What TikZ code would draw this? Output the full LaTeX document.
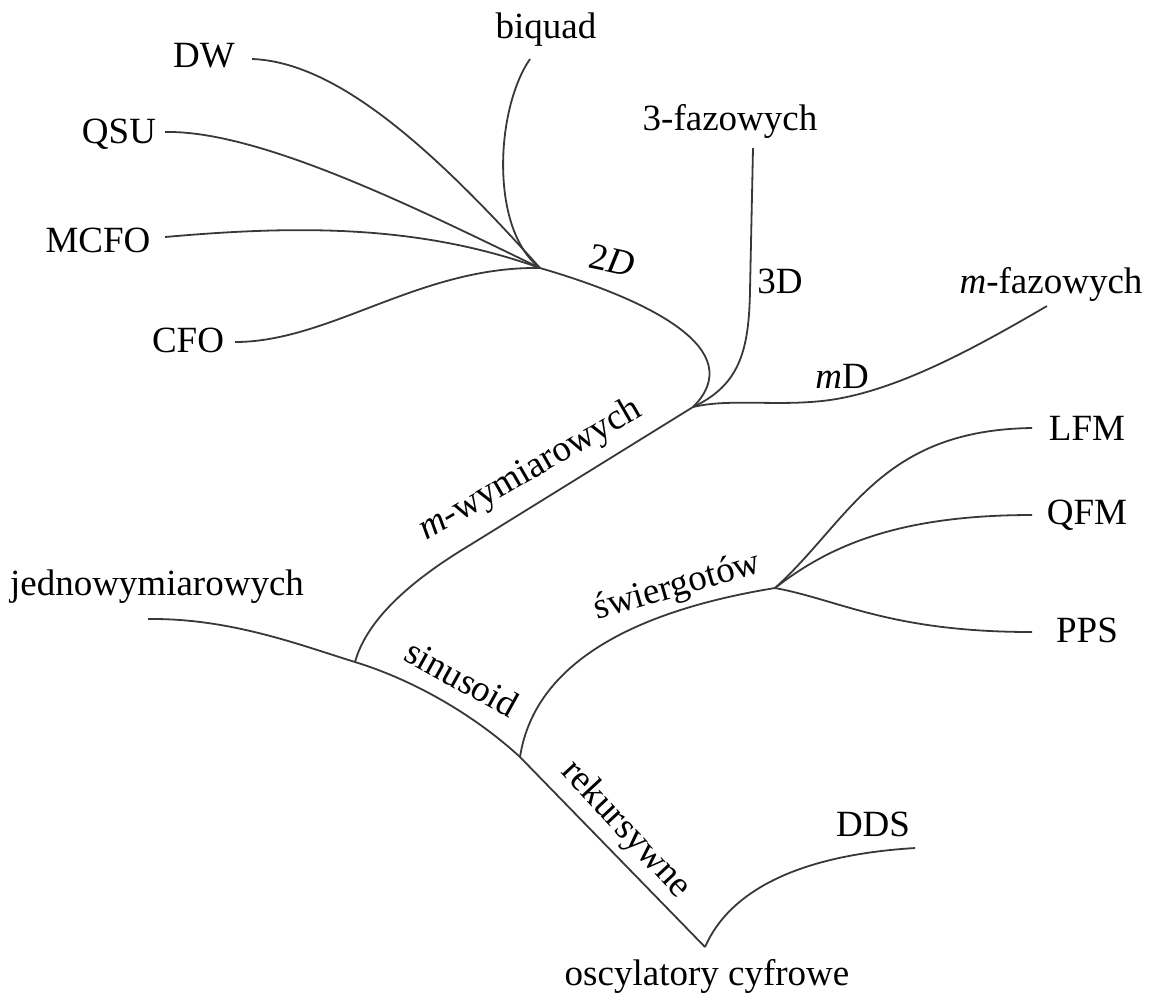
\documentclass[tikz,border=0pt]{standalone}
\usepackage{fontspec}
\setmainfont{Liberation Serif}
\usetikzlibrary{positioning}

\begin{document}
\begin{tikzpicture}[x=0.5pt,y=-0.5pt,
    branch/.style={draw=black!78,line width=0.9pt},
    lbl/.style={inner sep=0pt,anchor=base,font=\fontsize{18.5}{22}\selectfont}]
  \useasboundingbox (0,0) rectangle (1154,1003);
  % junctions
  \coordinate (root) at (705,947);
  \coordinate (jsin) at (520,757);
  \coordinate (jmw) at (355,662);
  \coordinate (jm) at (693,407);
  \coordinate (j2d) at (540,268);
  \coordinate (jsw) at (775,588);
  % free ends
  \coordinate (dwE) at (252,59);
  \coordinate (qsuE) at (165,132);
  \coordinate (mcfoE) at (165,237);
  \coordinate (cfoE) at (235,342);
  \coordinate (biqE) at (530,59);
  \coordinate (fzE) at (753,148);
  \coordinate (mfzE) at (1047,306);
  \coordinate (lfmE) at (1032,428);
  \coordinate (qfmE) at (1032,515);
  \coordinate (ppsE) at (1032,632);
  \coordinate (jedE) at (148,619);
  \coordinate (ddsE) at (915,848);
  % main stem
  \draw[branch] (jedE) .. controls (230,618) and (300,645) .. (jmw)
    .. controls (420,682) and (480,720) .. (jsin) -- (root);
  \draw[branch] (root) .. controls (730,890) and (800,855) .. (ddsE);
  \draw[branch] (jsin) .. controls (535,660) and (640,610) .. (jsw);
  \draw[branch] (jsw) .. controls (850,520) and (880,430) .. (lfmE);
  \draw[branch] (jsw) .. controls (830,545) and (900,515) .. (qfmE);
  \draw[branch] (jsw) .. controls (840,600) and (890,632) .. (ppsE);
  \draw[branch] (jmw) .. controls (368,615) and (420,575) .. (470,545) -- (jm);
  \draw[branch] (jm) .. controls (740,385) and (749,350) .. (750,290) -- (fzE);
  \draw[branch] (jm) .. controls (730,398) and (780,407) .. (830,400)
    .. controls (900,390) and (980,345) .. (mfzE);
  \draw[branch] (jm) .. controls (750,350) and (650,300) .. (j2d);
  % 2D fan
  \draw[branch] (dwE) .. controls (335,62) and (430,145) .. (j2d);
  \draw[branch] (qsuE) .. controls (260,130) and (420,210) .. (j2d);
  \draw[branch] (mcfoE) .. controls (300,225) and (420,225) .. (j2d);
  \draw[branch] (cfoE) .. controls (330,342) and (420,266) .. (j2d);
  \draw[branch] (biqE) .. controls (495,110) and (490,230) .. (j2d);
  % leaves
  \node[lbl] (dw) at (204,67) {DW};
  \node[lbl] (qsu) at (119,143) {QSU};
  \node[lbl] (mcfo) at (98,252) {MCFO};
  \node[lbl] (cfo) at (188,352) {CFO};
  \node[lbl] (biquad) at (546,38) {biquad};
  \node[lbl] (fz3) at (730,130) {3-fazowych};
  \node[lbl] (fzm) at (1051,293) {\textit{m}-fazowych};
  \node[lbl] (lfm) at (1087,440) {LFM};
  \node[lbl] (qfm) at (1087,524) {QFM};
  \node[lbl] (pps) at (1087,642) {PPS};
  \node[lbl] (jedn) at (157,595) {jednowymiarowych};
  \node[lbl] (dds) at (873,836) {DDS};
  \node[lbl] (osc) at (707,985) {oscylatory cyfrowe};
  % branch names
  \node[lbl,rotate=-12] (d2) at (610,272) {2\textit{D}};
  \node[lbl] (d3) at (780,293) {3D};
  \node[lbl] (dm) at (842,388) {\textit{m}D};
  \node[lbl,rotate=30] (mwym) at (535,478) {\textit{m}-wymiarowych};
  \node[lbl,rotate=16] (swier) at (680,596) {świergotów};
  \node[lbl,rotate=-29] (sinus) at (456,689) {sinusoid};
  \node[lbl,rotate=-47] (rek) at (619,836) {rekursywne};
\end{tikzpicture}
\end{document}
